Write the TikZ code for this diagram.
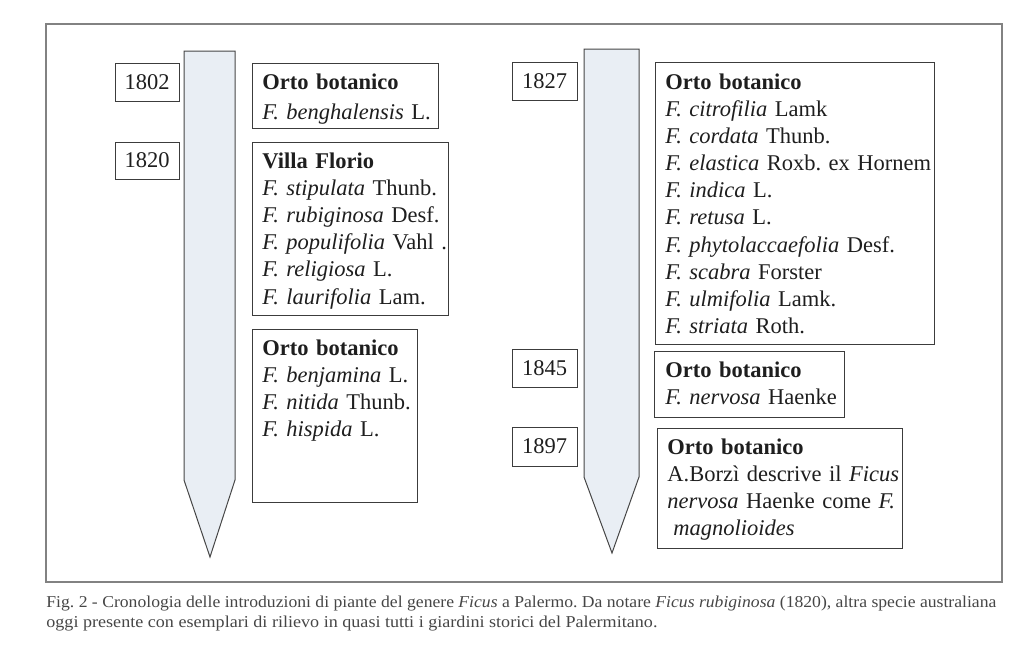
\documentclass[tikz,border=0pt]{standalone}
\usepackage{fontspec}
\setmainfont{Liberation Serif}
\usepackage{graphicx}
\usetikzlibrary{fit}
\frenchspacing
\definecolor{stakefill}{RGB}{233,238,244}
\definecolor{stakeline}{RGB}{70,70,70}
\definecolor{boxline}{RGB}{60,60,60}
\definecolor{frameline}{RGB}{130,130,130}
\definecolor{ink}{RGB}{30,30,30}
\definecolor{capink}{RGB}{70,70,70}
\begin{document}
\begin{tikzpicture}[x=0.5pt,y=-0.5pt,
  box/.style={draw=boxline, line width=0.5pt, rectangle, inner sep=0pt},
  yeartext/.style={inner sep=0pt, text=ink, font=\fontsize{11.25}{13.6}\selectfont},
  txt/.style={anchor=base west, inner sep=0pt, align=left, text width=140pt, text=ink,
    font=\fontsize{11.25}{13.6}\selectfont\frenchspacing},
  stake/.style={draw=stakeline, line width=0.5pt, fill=stakefill, line join=miter},
  captext/.style={anchor=base west, inner sep=0pt, text=capink, font=\fontsize{8.3}{10}\selectfont\frenchspacing}]
\useasboundingbox (0,0) rectangle (1013,648);
% outer frame
\draw[frameline, line width=0.6pt] (46,24) rectangle (1002,582);
% stakes
\draw[stake] (184,51) -- (235,51) -- (235,480) -- (210,557) -- (184,480) -- cycle;
\draw[stake] (584,49) -- (639,49) -- (639,477) -- (612,553) -- (584,477) -- cycle;
% year boxes
\node[box, fit={(115,63) (179,101)}] (y1802) {};
\node[box, fit={(115,142) (179,179)}] (y1820) {};
\node[box, fit={(512,62) (577,100)}] (y1827) {};
\node[box, fit={(512,349) (577,387)}] (y1845) {};
\node[box, fit={(512,427) (577,466)}] (y1897) {};
\node[yeartext] (n1802) at (y1802.center) {1802};
\node[yeartext] (n1820) at (y1820.center) {1820};
\node[yeartext] (n1827) at (y1827.center) {1827};
\node[yeartext] (n1845) at (y1845.center) {1845};
\node[yeartext] (n1897) at (y1897.center) {1897};
% content boxes
\node[box, fit={(252,63) (438,128)}] (b1) {};
\node[box, fit={(252,142) (448,315)}] (b2) {};
\node[box, fit={(252,329) (417,502)}] (b3) {};
\node[box, fit={(655,62) (934,344)}] (b4) {};
\node[box, fit={(654,351) (844,417)}] (b5) {};
\node[box, fit={(657,428) (902,548)}] (b6) {};
% texts
\node[txt] (t1) at (262,90) {\textbf{Orto botanico}\\[1pt]\textit{F. benghalensis} L.};
\node[txt] (t2) at (262,168) {\textbf{Villa Florio}\\
  \textit{F. stipulata} Thunb.\\
  \textit{F. rubiginosa} Desf.\\
  \textit{F. populifolia} Vahl .\\
  \textit{F. religiosa} L.\\
  \textit{F. laurifolia} Lam.};
\node[txt] (t3) at (262,355) {\textbf{Orto botanico}\\
  \textit{F. benjamina} L.\\
  \textit{F. nitida} Thunb.\\
  \textit{F. hispida} L.};
\node[txt] (t4) at (665,89) {\textbf{Orto botanico}\\
  \textit{F. citrofilia} Lamk\\
  \textit{F. cordata} Thunb.\\
  \textit{F. elastica} Roxb. ex Hornem\\
  \textit{F. indica} L.\\
  \textit{F. retusa} L.\\
  \textit{F. phytolaccaefolia} Desf.\\
  \textit{F. scabra} Forster\\
  \textit{F. ulmifolia} Lamk.\\
  \textit{F. striata} Roth.};
\node[txt] (t5) at (665,377) {\textbf{Orto botanico}\\
  \textit{F. nervosa} Haenke};
\node[txt] (t6) at (667,454) {\textbf{Orto botanico}\\
  A.Borzì descrive il \textit{Ficus}\\
  \textit{nervosa} Haenke come \textit{F.}\\
  \hspace*{3pt}\textit{magnolioides}};
% caption
\node[captext] (c1) at (46,607) {\resizebox{475pt}{\height}{Fig. 2 - Cronologia delle introduzioni di piante del genere \textit{Ficus} a Palermo. Da notare \textit{Ficus rubiginosa} (1820), altra specie australiana}};
\node[captext] (c2) at (46,627) {\resizebox{305.5pt}{\height}{oggi presente con esemplari di rilievo in quasi tutti i giardini storici del Palermitano.}};
\end{tikzpicture}
\end{document}
